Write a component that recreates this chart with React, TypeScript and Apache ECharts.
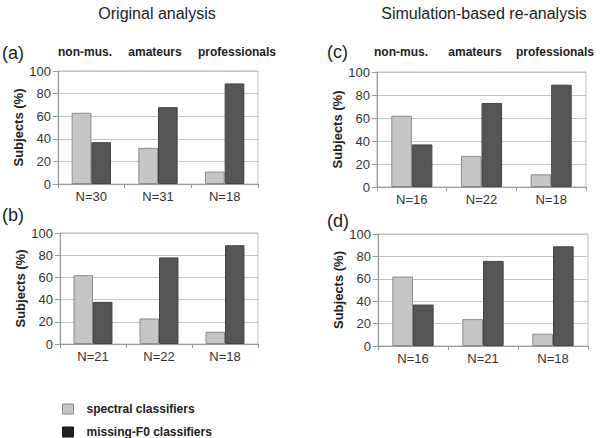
import React, { useEffect, useRef } from "react";
import * as echarts from "echarts";

const groups = ["non-mus.", "amateurs", "professionals"];
const nA = ["N=30", "N=31", "N=18"];
const nB = ["N=21", "N=22", "N=18"];
const nC = ["N=16", "N=22", "N=18"];
const nD = ["N=16", "N=21", "N=18"];
const spectralA = [63, 32, 11];
const missingA = [37, 68, 89];
const spectralB = [62, 23, 11];
const missingB = [38, 78, 89];
const spectralC = [62, 27, 11];
const missingC = [37, 73, 89];
const spectralD = [62, 24, 11];
const missingD = [37, 76, 89];
const yTicks = [0, 20, 40, 60, 80, 100];

const FONT = "Liberation Sans, Arial, sans-serif";
const LIGHT = "#c6c6c6";
const DARK = "#555555";

export default function App() {
  const ref = useRef<HTMLDivElement>(null);
  useEffect(() => {
    if (!ref.current) return;
    const chart = echarts.init(ref.current, undefined, { renderer: "svg" });
    const grids = [
      { left: 58, top: 71, width: 200, height: 113 },
      { left: 60, top: 233, width: 198, height: 111 },
      { left: 377, top: 72, width: 209, height: 115 },
      { left: 378, top: 234, width: 210, height: 112 },
    ];
    const cats = [nA, nB, nC, nD];
    const spec = [spectralA, spectralB, spectralC, spectralD];
    const miss = [missingA, missingB, missingC, missingD];
    const topX = [
      [85, 155, 237],
      [401, 475, 555],
    ];
    const graphics: any[] = [
      { type: "text", x: 157, y: 13, style: { text: "Original analysis", font: `16px ${FONT}`, fill: "#222", align: "center", verticalAlign: "middle" } },
      { type: "text", x: 484, y: 13, style: { text: "Simulation-based re-analysis", font: `16px ${FONT}`, fill: "#222", align: "center", verticalAlign: "middle" } },
      { type: "text", x: 2, y: 53, style: { text: "(a)", font: `18px ${FONT}`, fill: "#222", verticalAlign: "middle" } },
      { type: "text", x: 2, y: 215, style: { text: "(b)", font: `18px ${FONT}`, fill: "#222", verticalAlign: "middle" } },
      { type: "text", x: 327, y: 52, style: { text: "(c)", font: `18px ${FONT}`, fill: "#222", verticalAlign: "middle" } },
      { type: "text", x: 327, y: 221, style: { text: "(d)", font: `18px ${FONT}`, fill: "#222", verticalAlign: "middle" } },
    ];
    topX.forEach((xs) =>
      xs.forEach((x, i) =>
        graphics.push({ type: "text", x, y: 52, style: { text: groups[i], font: `bold 12px ${FONT}`, fill: "#222", align: "center", verticalAlign: "middle" } })
      )
    );
    const option: any = {
      animation: false,
      backgroundColor: "#fff",
      grid: grids.map((g) => ({ ...g, show: true, borderColor: "#bdbdbd", borderWidth: 1, containLabel: false })),
      xAxis: grids.map((_, i) => ({
        type: "category",
        gridIndex: i,
        data: cats[i],
        axisLine: { lineStyle: { color: "#999" } },
        axisTick: { show: true, length: 4, lineStyle: { color: "#999" } },
        axisLabel: { fontFamily: FONT, fontSize: 13, color: "#333", margin: 6 },
      })),
      yAxis: grids.map((_, i) => ({
        type: "value",
        gridIndex: i,
        min: yTicks[0],
        max: yTicks[yTicks.length - 1],
        interval: 20,
        name: "Subjects (%)",
        nameLocation: "middle",
        nameGap: 30,
        nameTextStyle: { fontFamily: FONT, fontSize: 13, fontWeight: "bold", color: "#222" },
        axisLine: { show: true, lineStyle: { color: "#999" } },
        axisTick: { show: true, length: 5, lineStyle: { color: "#999" } },
        axisLabel: { fontFamily: FONT, fontSize: 13, color: "#333", margin: 7 },
        splitLine: { lineStyle: { color: "#c4c4c4" } },
      })),
      legend: {
        orient: "vertical",
        left: 62,
        top: 403,
        padding: 0,
        height: 35,
        itemWidth: 11,
        itemHeight: 10,
        itemGap: 11,
        icon: "rect",
        textStyle: { fontFamily: FONT, fontSize: 12, fontWeight: "bold", color: "#222", padding: [0, 0, 0, 8] },
        data: [
          { name: "spectral classifiers", itemStyle: { color: LIGHT, borderColor: "#888", borderWidth: 1 } },
          { name: "missing-F0 classifiers", itemStyle: { color: "#222", borderColor: "#111", borderWidth: 1 } },
        ],
      },
      series: grids.flatMap((_, i) => [
        {
          type: "bar",
          name: "spectral classifiers",
          xAxisIndex: i,
          yAxisIndex: i,
          data: spec[i],
          barGap: "0%",
          barCategoryGap: "41%",
          itemStyle: { color: LIGHT, borderColor: "#8a8a8a", borderWidth: 1 },
        },
        {
          type: "bar",
          name: "missing-F0 classifiers",
          xAxisIndex: i,
          yAxisIndex: i,
          data: miss[i],
          barGap: "0%",
          barCategoryGap: "41%",
          itemStyle: { color: DARK, borderColor: "#444", borderWidth: 1 },
        },
      ]),
      graphic: graphics,
    };
    chart.setOption(option);
    return () => chart.dispose();
  }, []);
  return <div ref={ref} style={{ width: 601, height: 438, position: "absolute", left: 0, top: 0 }} />;
}
